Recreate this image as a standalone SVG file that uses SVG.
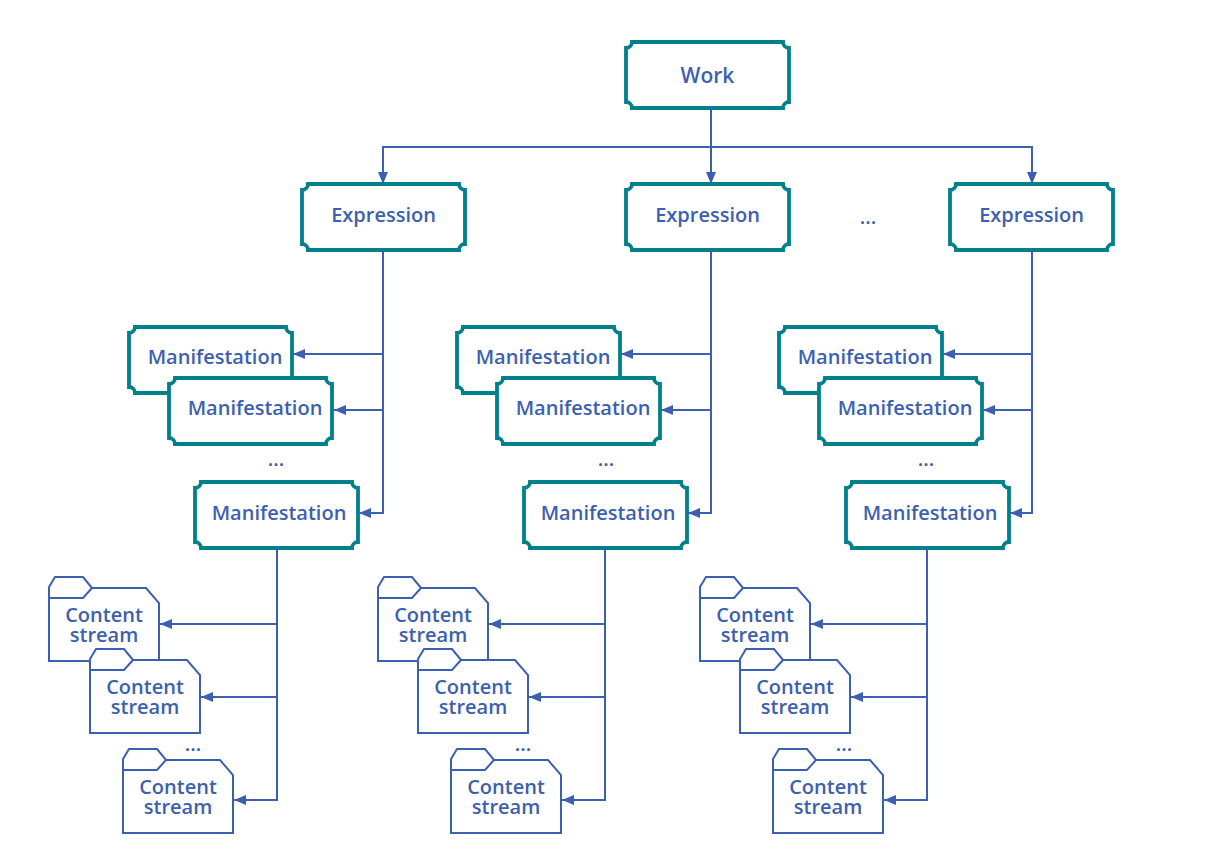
<svg xmlns="http://www.w3.org/2000/svg" width="1216" height="860" viewBox="0 0 1216 860">
<style>
.box{fill:#fff;stroke:#00808b;stroke-width:3.8}
.cs{fill:#fff;stroke:#3d5fb0;stroke-width:2;stroke-linejoin:miter}
.csl{fill:none;stroke:#3d5fb0;stroke-width:2}
.t{font-family:"Open Sans","Noto Sans",sans-serif;font-weight:600;font-size:20px;fill:#3d5fb0;text-anchor:middle}
.c{fill:none;stroke:#3d5fb0;stroke-width:2}
</style>
<defs>
<marker id="ah" viewBox="0 0 12 10" refX="12" refY="5" markerWidth="12" markerHeight="10" orient="auto" markerUnits="userSpaceOnUse"><path d="M0,0 L12,5 L0,10 Z" fill="#3d5fb0"/></marker>
<path id="bx" d="M6,0 H157 A6 6 0 0 0 163,6 V60 A6 6 0 0 0 157,66 H6 A6 6 0 0 0 0,60 V6 A6 6 0 0 0 6,0 Z"/>
</defs>
<rect width="1216" height="860" fill="#fff"/>

<g id="work" transform="translate(626,42)"><use href="#bx" class="box"/><text class="t" x="81.5" y="41" style="font-size:21px">Work</text></g>

<g id="expr1" transform="translate(302,184)"><use href="#bx" class="box"/><text class="t" x="81.5" y="38">Expression</text></g>
<g id="expr2" transform="translate(626,184)"><use href="#bx" class="box"/><text class="t" x="81.5" y="38">Expression</text></g>
<g id="expr3" transform="translate(950,184)"><use href="#bx" class="box"/><text class="t" x="81.5" y="38">Expression</text></g>
<text class="t" x="868" y="224">...</text>

<g id="man1a" transform="translate(129,327)"><use href="#bx" class="box"/><text class="t" x="86" y="37">Manifestation</text></g>
<g id="man1b" transform="translate(169,378)"><use href="#bx" class="box"/><text class="t" x="86" y="37">Manifestation</text></g>
<g id="man1c" transform="translate(195,482)"><use href="#bx" class="box"/><text class="t" x="84" y="38">Manifestation</text></g>
<text class="t" x="276" y="466">...</text>

<g id="man2a" transform="translate(457,327)"><use href="#bx" class="box"/><text class="t" x="86" y="37">Manifestation</text></g>
<g id="man2b" transform="translate(497,378)"><use href="#bx" class="box"/><text class="t" x="86" y="37">Manifestation</text></g>
<g id="man2c" transform="translate(524,482)"><use href="#bx" class="box"/><text class="t" x="84" y="38">Manifestation</text></g>
<text class="t" x="606" y="466">...</text>

<g id="man3a" transform="translate(779,327)"><use href="#bx" class="box"/><text class="t" x="86" y="37">Manifestation</text></g>
<g id="man3b" transform="translate(819,378)"><use href="#bx" class="box"/><text class="t" x="86" y="37">Manifestation</text></g>
<g id="man3c" transform="translate(846,482)"><use href="#bx" class="box"/><text class="t" x="84" y="38">Manifestation</text></g>
<text class="t" x="926" y="466">...</text>

<g id="cs1a" transform="translate(49,577)"><path class="cs" d="M0,10 L6,0 H34 L43,11 H97 L110,26 V84 H0 Z"/><path class="csl" d="M0,21 H34 L43,11"/><text class="t"><tspan x="55" y="45">Content</tspan><tspan x="55" y="65">stream</tspan></text></g>
<g id="cs1b" transform="translate(90,649)"><path class="cs" d="M0,10 L6,0 H34 L43,11 H97 L110,26 V84 H0 Z"/><path class="csl" d="M0,21 H34 L43,11"/><text class="t"><tspan x="55" y="45">Content</tspan><tspan x="55" y="65">stream</tspan></text></g>
<text class="t" x="193" y="751">...</text>
<g id="cs1c" transform="translate(123,749)"><path class="cs" d="M0,10 L6,0 H34 L43,11 H97 L110,26 V84 H0 Z"/><path class="csl" d="M0,21 H34 L43,11"/><text class="t"><tspan x="55" y="45">Content</tspan><tspan x="55" y="65">stream</tspan></text></g>

<g id="cs2a" transform="translate(378,577)"><path class="cs" d="M0,10 L6,0 H34 L43,11 H97 L110,26 V84 H0 Z"/><path class="csl" d="M0,21 H34 L43,11"/><text class="t"><tspan x="55" y="45">Content</tspan><tspan x="55" y="65">stream</tspan></text></g>
<g id="cs2b" transform="translate(418,649)"><path class="cs" d="M0,10 L6,0 H34 L43,11 H97 L110,26 V84 H0 Z"/><path class="csl" d="M0,21 H34 L43,11"/><text class="t"><tspan x="55" y="45">Content</tspan><tspan x="55" y="65">stream</tspan></text></g>
<text class="t" x="523" y="751">...</text>
<g id="cs2c" transform="translate(451,749)"><path class="cs" d="M0,10 L6,0 H34 L43,11 H97 L110,26 V84 H0 Z"/><path class="csl" d="M0,21 H34 L43,11"/><text class="t"><tspan x="55" y="45">Content</tspan><tspan x="55" y="65">stream</tspan></text></g>

<g id="cs3a" transform="translate(700,577)"><path class="cs" d="M0,10 L6,0 H34 L43,11 H97 L110,26 V84 H0 Z"/><path class="csl" d="M0,21 H34 L43,11"/><text class="t"><tspan x="55" y="45">Content</tspan><tspan x="55" y="65">stream</tspan></text></g>
<g id="cs3b" transform="translate(740,649)"><path class="cs" d="M0,10 L6,0 H34 L43,11 H97 L110,26 V84 H0 Z"/><path class="csl" d="M0,21 H34 L43,11"/><text class="t"><tspan x="55" y="45">Content</tspan><tspan x="55" y="65">stream</tspan></text></g>
<text class="t" x="844" y="751">...</text>
<g id="cs3c" transform="translate(773,749)"><path class="cs" d="M0,10 L6,0 H34 L43,11 H97 L110,26 V84 H0 Z"/><path class="csl" d="M0,21 H34 L43,11"/><text class="t"><tspan x="55" y="45">Content</tspan><tspan x="55" y="65">stream</tspan></text></g>

<g id="connectors" class="c">
<path class="c" d="M711,108 V184" marker-end="url(#ah)"/>
<path class="c" d="M711,147 H383 V184" marker-end="url(#ah)"/>
<path class="c" d="M711,147 H1032 V184" marker-end="url(#ah)"/>

<path class="c" d="M383,250 V513 H359" marker-end="url(#ah)"/>
<path class="c" d="M383,354 H293" marker-end="url(#ah)"/>
<path class="c" d="M383,410 H334" marker-end="url(#ah)"/>
<path class="c" d="M711,250 V513 H688" marker-end="url(#ah)"/>
<path class="c" d="M711,354 H621" marker-end="url(#ah)"/>
<path class="c" d="M711,410 H661" marker-end="url(#ah)"/>
<path class="c" d="M1032,250 V513 H1010" marker-end="url(#ah)"/>
<path class="c" d="M1032,354 H943" marker-end="url(#ah)"/>
<path class="c" d="M1032,410 H983" marker-end="url(#ah)"/>

<path class="c" d="M277,548 V800 H234" marker-end="url(#ah)"/>
<path class="c" d="M277,624 H160" marker-end="url(#ah)"/>
<path class="c" d="M277,697 H201" marker-end="url(#ah)"/>
<path class="c" d="M605,548 V800 H562" marker-end="url(#ah)"/>
<path class="c" d="M605,624 H489" marker-end="url(#ah)"/>
<path class="c" d="M605,697 H529" marker-end="url(#ah)"/>
<path class="c" d="M927,548 V800 H884" marker-end="url(#ah)"/>
<path class="c" d="M927,624 H811" marker-end="url(#ah)"/>
<path class="c" d="M927,697 H851" marker-end="url(#ah)"/>
</g>
</svg>
